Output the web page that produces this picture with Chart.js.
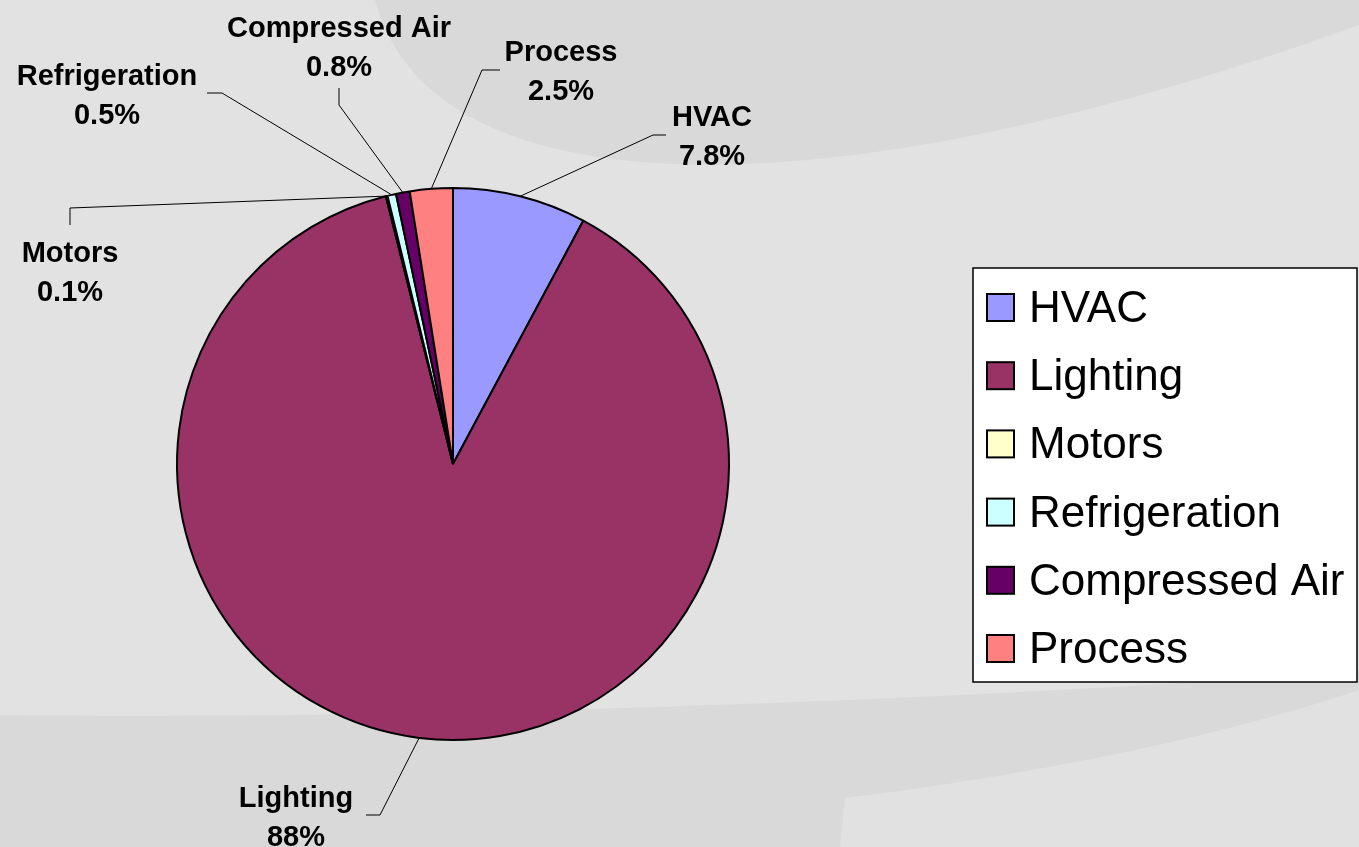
<!DOCTYPE html>
<html>
<head>
<meta charset="utf-8">
<script src="https://cdn.jsdelivr.net/npm/chart.js@4/dist/chart.umd.min.js"></script>
<style>
    html, body { margin: 0; padding: 0; background: #e2e2e2; }
    canvas { display: block; }
</style>
</head>
<body>
<canvas id="energy_pie" width="1359" height="847"></canvas>
<script>
const categories = ["HVAC", "Lighting", "Motors", "Refrigeration", "Compressed Air", "Process"];
const shares     = [7.8, 88, 0.1, 0.5, 0.8, 2.5];
const colors     = ["#9999ff", "#993366", "#ffffcc", "#ccffff", "#660066", "#ff8080"];

// label placement relative to the pie centre: text, elbow of the leader, end of the leader
const label_layout = [
    {tx: 259,  ty: -348, ex: 200,  ey: -329, fx: 213,  fy: -329},
    {tx: -157, ty: 333,  ex: -73,  ey: 351,  fx: -87,  fy: 351},
    {tx: -383, ty: -212, ex: -383, ey: -256, fx: -383, fy: -239},
    {tx: -346, ty: -389, ex: -231, ey: -371, fx: -246, fy: -371},
    {tx: -114, ty: -437, ex: -114, ey: -359, fx: -114, fy: -376},
    {tx: 108,  ty: -413, ex: 29,   ey: -394, fx: 47,   fy: -394},
];

function fmt_pct(v){
    return (Number.isInteger(v) ? v : v.toFixed(1)) + "%";
}

const background_plugin = {
    id: "swoosh_bg",
    beforeDraw(chart){
        const ctx = chart.ctx;
        ctx.save();
        ctx.fillStyle = "#e2e2e2";
        ctx.fillRect(0, 0, chart.width, chart.height);
        ctx.fillStyle = "#d9d9d9";
        ctx.beginPath();
        ctx.moveTo(375, 0);
        ctx.bezierCurveTo(430, 210, 820, 220, 1359, 25);
        ctx.lineTo(1359, 0);
        ctx.closePath();
        ctx.fill();
        ctx.beginPath();
        ctx.moveTo(0, 715);
        ctx.bezierCurveTo(400, 720, 1000, 700, 1359, 670);
        ctx.lineTo(1359, 847);
        ctx.lineTo(0, 847);
        ctx.closePath();
        ctx.fill();
        ctx.fillStyle = "#e1e1e1";
        ctx.beginPath();
        ctx.moveTo(840, 847);
        ctx.lineTo(845, 798);
        ctx.quadraticCurveTo(1150, 760, 1359, 690);
        ctx.lineTo(1359, 847);
        ctx.closePath();
        ctx.fill();
        ctx.restore();
    }
};

const labels_plugin = {
    id: "leader_labels",
    afterDatasetsDraw(chart){
        const ctx  = chart.ctx;
        const arcs = chart.getDatasetMeta(0).data;
        const vals = chart.data.datasets[0].data;
        ctx.save();
        for (let i=0; i<arcs.length; i++){
            const arc = arcs[i];
            const lay = label_layout[i];
            const mid = (arc.startAngle + arc.endAngle) / 2;
            const sx  = arc.x + Math.cos(mid) * arc.outerRadius;
            const sy  = arc.y + Math.sin(mid) * arc.outerRadius;
            ctx.strokeStyle = "#000";
            ctx.lineWidth   = 1;
            ctx.beginPath();
            ctx.moveTo(sx, sy);
            ctx.lineTo(arc.x + lay.ex, arc.y + lay.ey);
            ctx.lineTo(arc.x + lay.fx, arc.y + lay.fy);
            ctx.stroke();

            ctx.fillStyle    = "#000";
            ctx.font         = "bold 29px 'Liberation Sans', Arial, sans-serif";
            ctx.textAlign    = "center";
            ctx.textBaseline = "alphabetic";
            ctx.fillText(chart.data.labels[i], arc.x + lay.tx, arc.y + lay.ty + 10);
            ctx.fillText(fmt_pct(vals[i]), arc.x + lay.tx, arc.y + lay.ty + 49);
        }
        ctx.restore();
    }
};

const legend_plugin = {
    id: "boxed_legend",
    afterDraw(chart){
        const ctx = chart.ctx;
        const ds  = chart.data.datasets[0];
        ctx.save();
        ctx.fillStyle   = "#fff";
        ctx.fillRect(973, 268, 384, 414);
        ctx.strokeStyle = "#000";
        ctx.lineWidth   = 1.5;
        ctx.strokeRect(973, 268, 384, 414);
        ctx.font         = "44px 'Liberation Sans', Arial, sans-serif";
        ctx.textAlign    = "left";
        ctx.textBaseline = "alphabetic";
        for (let i=0; i<chart.data.labels.length; i++){
            const cy = 307 + i * 68.2;
            ctx.fillStyle = ds.backgroundColor[i];
            ctx.fillRect(987, cy - 13, 27, 27);
            ctx.lineWidth = 2;
            ctx.strokeRect(987, cy - 13, 27, 27);
            ctx.fillStyle = "#000";
            ctx.fillText(chart.data.labels[i], 1029, cy + 15);
        }
        ctx.restore();
    }
};

const ctx = document.getElementById("energy_pie").getContext("2d");
const myChart = new Chart(ctx, {
    type: "pie",
    data: {
        labels: categories,
        datasets: [{
            data: shares,
            backgroundColor: colors,
            borderColor: "#000",
            borderWidth: 2
        }]
    },
    options: {
        responsive: false,
        animation: false,
        layout: {
            padding: {left: 176, right: 629, top: 187, bottom: 106}
        },
        plugins: {
            legend: { display: false },
            tooltip: { enabled: false }
        }
    },
    plugins: [background_plugin, labels_plugin, legend_plugin]
});
</script>
</body>
</html>
